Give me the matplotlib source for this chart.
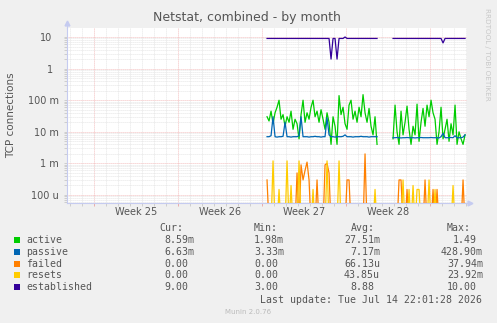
import numpy as np
import matplotlib
matplotlib.use("Agg")
import matplotlib.pyplot as plt
from matplotlib.patches import Rectangle
from matplotlib.transforms import ScaledTranslation, blended_transform_factory

# ── Data ──────────────────────────────────────────────────────────────────────
# 4-hourly samples, values in milli-connections. Two runs of data with a gap.
T_START = 16.67      # days from the left edge of the month window
T_STEP  = 1 / 6      # 4 h
GAP_LEN = 7          # missing samples between the two runs

active_a = [30, 22, 45, 18, 40, 60, 100, 25, 35, 15,
            30, 20, 45, 12, 25, 18, 6, 35, 100, 20,
            40, 25, 60, 100, 30, 45, 20, 50, 25, 12,
            40, 20, 4, 30, 15, 4, 140, 35, 60, 18,
            12, 70, 100, 25, 45, 20, 60, 30, 150, 40,
            20, 55, 15, 8, 30, 4]
active_b = [6, 70, 10, 4, 45, 8, 20, 65, 12, 4,
            15, 8, 75, 5, 20, 55, 15, 70, 30, 100,
            40, 25, 4, 10, 60, 6, 12, 25, 5, 18,
            8, 70, 4, 10, 6, 4, 8]

passive_a = [7, 7, 7.5, 30, 7, 6.8, 7, 7, 7.2, 20,
             7, 7, 6.8, 7, 7, 7, 7.5, 30, 7, 7,
             7, 6.8, 7, 7, 7.2, 7, 7, 6.8, 7, 7,
             28, 8, 7, 7, 6.8, 7, 7, 7, 7.2, 8,
             7, 7, 7, 6.8, 7, 7, 7, 7.2, 7, 7,
             7, 6.8, 7, 7, 7, 7]
passive_b = [6.5, 6.5, 6.6, 6.5, 6.4, 6.5, 6.5, 6.6, 6.5, 6.5,
             6.5, 6.4, 6.5, 6.5, 6.6, 6.5, 6.5, 6.5, 6.5, 6.6,
             6.5, 6.5, 6.5, 6.4, 7, 9, 6.5, 6.5, 6.5, 6.6,
             6.5, 7.5, 6.5, 6.5, 6.5, 6.8, 8]

failed_a = [0.3, 0, 0, 0, 0, 0, 0, 0, 0, 0,
            0, 0, 0, 0, 0, 0.5, 0, 0.9, 0.3, 0.6,
            1.1, 0.3, 0, 0, 0, 0.3, 0, 0, 0, 0.9,
            1.0, 0.5, 0, 0, 0, 0, 0, 0, 0, 0,
            0.3, 0.3, 0, 0, 0, 0, 0, 0, 0, 2.0,
            0, 0, 0, 0, 0, 0]
failed_b = [0, 0, 0, 0.3, 0.3, 0, 0, 0.15, 0, 0,
            0, 0, 0, 0, 0, 0, 0.3, 0, 0, 0,
            0.15, 0, 0.15, 0, 0, 0, 0, 0, 0, 0,
            0, 0, 0, 0, 0, 0.3, 0]

resets_a = [0, 0, 0, 1.2, 0, 0, 0.15, 0, 0, 0,
            1.2, 0, 0.2, 0, 0, 0, 1.2, 0, 0, 0,
            0, 0, 0, 0.15, 0, 0, 0, 0, 0, 0,
            1.2, 0, 0, 0, 0, 0, 1.2, 0, 0, 0,
            0, 0, 0, 0, 0, 0, 0, 0, 0, 0,
            0, 0, 0, 0, 0.15, 0]
resets_b = [0, 0, 0, 0, 0, 0.3, 0, 0, 0.15, 0,
            0.2, 0, 0.15, 0.15, 0, 0, 0, 0, 0.3, 0,
            0, 0.15, 0, 0, 0, 0, 0, 0, 0, 0,
            0.2, 0, 0, 0, 0, 0, 0]

established_a = [9000] * 32 + [2000, 9000, 9000, 2000, 9000, 9000, 9000, 10000] + [9000] * 16
established_b = [9000] * 25 + [6500] + [9000] * 11

series_names  = ["active", "passive", "failed", "resets", "established"]
series_colors = ["#00CC00", "#0066B3", "#FF8000", "#FFCC00", "#330099"]
cur_vals = ["8.59m", "6.63m", "0.00", "0.00", "9.00"]
min_vals = ["1.98m", "3.33m", "0.00", "0.00", "3.00"]
avg_vals = ["27.51m", "7.17m", "66.13u", "43.85u", "8.88"]
max_vals = ["1.49", "428.90m", "37.94m", "23.92m", "10.00"]

week_starts = [2.25, 9.25, 16.25, 23.25, 30.25]
week_labels = ["Week 25", "Week 26", "Week 27", "Week 28"]
ytick_vals   = [1e-4, 1e-3, 1e-2, 1e-1, 1, 10]
ytick_labels = ["100 u", "1 m", "10 m", "100 m", "1", "10"]

# ── Assemble series ───────────────────────────────────────────────────────────
def join(a, b):
    return np.r_[np.array(a, float), np.full(GAP_LEN, np.nan), np.array(b, float)] / 1000.0

series = [join(active_a, active_b), join(passive_a, passive_b),
          join(failed_a, failed_b), join(resets_a, resets_b),
          join(established_a, established_b)]
t = T_START + T_STEP * np.arange(len(series[0]))

# ── Figure ────────────────────────────────────────────────────────────────────
W, H = 497, 323
BG   = "#F0F0F0"
TXT  = "#555555"
AXC  = "#C5CBF0"

fig = plt.figure(figsize=(W / 100, H / 100), dpi=100, facecolor=BG)
ax  = fig.add_axes([67 / W, 1 - 203 / H, 400 / W, 175 / H])
ax.set_facecolor("white")

for y, col in zip(series, series_colors):
    # rrdtool drops zero values to the bottom of the log axis (NaN stays a gap)
    y = np.where(y == 0, 1e-5, y)
    ax.plot(t, y, color=col, lw=0.9, zorder=3)

ax.set_yscale("log")
ax.set_ylim(10 ** -4.253, 10 ** 1.285)
ax.set_xlim(0, 400 / 12)

# grid: gray dotted minors, red dotted majors
dots = (0, (1, 1.4))
ax.set_yticks(ytick_vals, ytick_labels)
ax.yaxis.set_minor_locator(matplotlib.ticker.LogLocator(subs=np.arange(2, 10)))
ax.yaxis.set_minor_formatter(matplotlib.ticker.NullFormatter())
ax.set_xticks(week_starts, [""] * len(week_starts))
ax.set_xticks(np.arange(0.25, 33.4, 1.0), minor=True)
ax.grid(which="minor", color="#DCDCDC", lw=0.6, ls=dots, zorder=0)
ax.grid(which="major", color="#F0A8A8", lw=0.6, ls=dots, zorder=1)
ax.set_axisbelow(True)

ax.tick_params(which="both", colors="#C8C8C8", width=0.6, length=2,
               labelcolor=TXT, labelsize=7, pad=4)
ax.tick_params(axis="x", which="major", colors="#E8A0A0", length=2)

# unitless y labels sit one character further left (rrdtool pads a blank unit)
for lab, txt in zip(ax.get_yticklabels(), ytick_labels):
    if txt[-1].isdigit():
        lab.set_transform(lab.get_transform() +
                          ScaledTranslation(-6 / 100, 0, fig.dpi_scale_trans))

# week labels centred in each week
btr = blended_transform_factory(ax.transData, ax.transAxes)
for ws, lab in zip(week_starts, week_labels):
    ax.text(ws + 3.5, 0, lab, transform=btr + ScaledTranslation(0, -9 / 100, fig.dpi_scale_trans),
            ha="center", va="center", fontsize=7, color=TXT)

for s in ["top", "right"]:
    ax.spines[s].set_visible(False)
for s in ["left", "bottom"]:
    ax.spines[s].set_color(AXC)
    ax.spines[s].set_linewidth(0.8)
# axis arrows
ax.plot([0, 0], [1, 1.03], transform=ax.transAxes, color=AXC, lw=0.8, clip_on=False)
ax.plot([0], [1.03], transform=ax.transAxes, marker="^", ms=3.5, color=AXC, clip_on=False)
ax.plot([1, 1.008], [0, 0], transform=ax.transAxes, color=AXC, lw=0.8, clip_on=False)
ax.plot([1.008], [0], transform=ax.transAxes, marker=">", ms=3.5, color=AXC, clip_on=False)

# ── Text ──────────────────────────────────────────────────────────────────────
def fx(px): return px / W
def fy(py): return 1 - py / H

fig.text(fx(247), fy(17), "Netstat, combined - by month", ha="center", va="center",
         fontsize=9, color=TXT)
fig.text(fx(11), fy(115), "TCP connections", rotation=90, ha="center", va="center",
         fontsize=7.5, color=TXT)
fig.text(fx(487.5), fy(54), "RRDTOOL / TOBI OETIKER", rotation=270, ha="center",
         va="center", fontsize=5.2, color="#C8C8C8")
fig.text(fx(248), fy(312), "Munin 2.0.76", ha="center", va="center",
         fontsize=5, color="#BBBBBB")

mono = dict(family="DejaVu Sans Mono", fontsize=7.1, color=TXT, va="center")
for x0, hdr in zip([159, 254, 351, 447], ["Cur:", "Min:", "Avg:", "Max:"]):
    fig.text(fx(x0), fy(228), hdr, ha="left", **mono)

col_ends = [194, 284, 380, 483]
for i, name in enumerate(series_names):
    yrow = 240 + 11.8 * i
    fig.patches.append(Rectangle((fx(14), fy(yrow + 3)), 6 / W, 6 / H,
                                 transform=fig.transFigure, facecolor=series_colors[i],
                                 edgecolor="none"))
    fig.text(fx(26), fy(yrow), name, ha="left", **mono)
    for xe, vals in zip(col_ends, [cur_vals, min_vals, avg_vals, max_vals]):
        v = vals[i]
        shift = 6 if v[-1].isdigit() else 0
        fig.text(fx(xe - shift), fy(yrow), v, ha="right", **mono)

fig.text(fx(482), fy(300), "Last update: Tue Jul 14 22:01:28 2026", ha="right", **mono)

fig.savefig("out.png", dpi=100, facecolor=BG)
